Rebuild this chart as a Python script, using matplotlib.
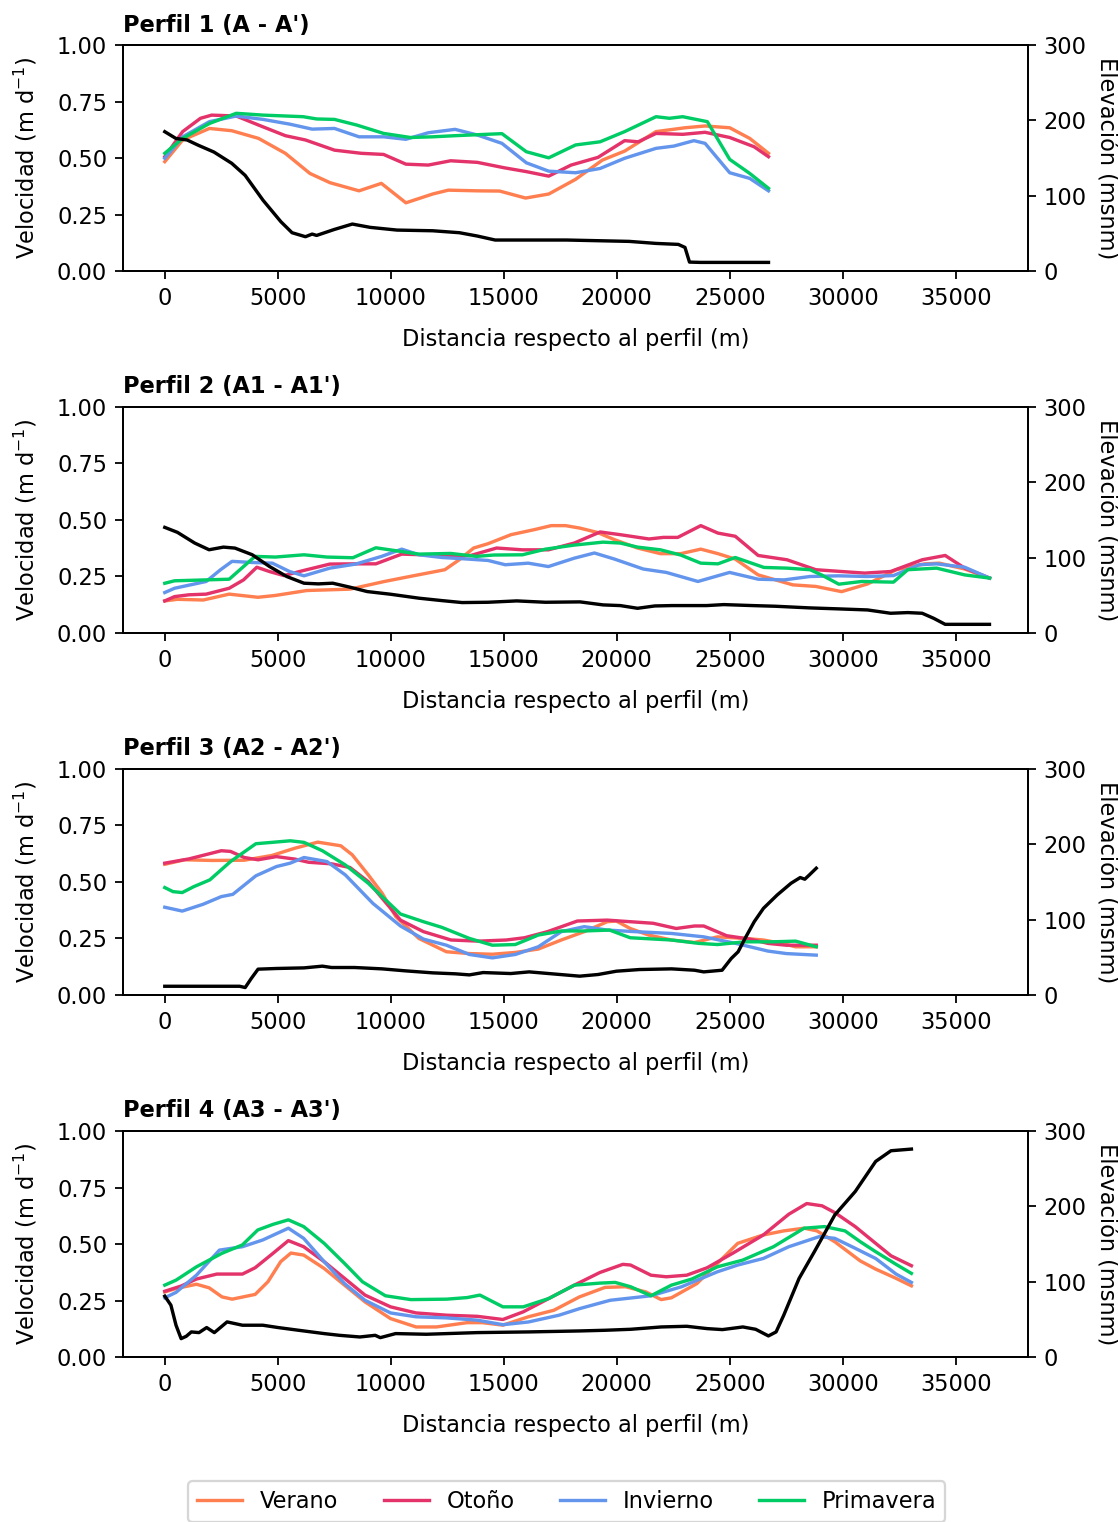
import matplotlib
matplotlib.use("Agg")
import matplotlib.pyplot as plt

# ---- Perfil 1 (A - A') ----
p1_ver_x = [0, 790, 1976, 2964, 4150, 5335, 6422, 7312, 8596, 9584, 10670, 11856, 12548, 13832, 14820, 15966, 16994, 18180, 19365, 20353, 21736, 23020, 23910, 25000, 25886, 26716]
p1_ver_y = [0.484, 0.58, 0.631, 0.621, 0.587, 0.521, 0.432, 0.391, 0.355, 0.388, 0.302, 0.341, 0.358, 0.355, 0.354, 0.323, 0.341, 0.406, 0.491, 0.531, 0.617, 0.634, 0.642, 0.634, 0.587, 0.521]
p1_oto_x = [0, 790, 1581, 2075, 3162, 4150, 5335, 6225, 7509, 8695, 9683, 10670, 11660, 12650, 13830, 15020, 16000, 16990, 17980, 19170, 20350, 20950, 21740, 22920, 23910, 25000, 26080, 26716]
p1_oto_y = [0.506, 0.617, 0.676, 0.690, 0.686, 0.646, 0.599, 0.580, 0.535, 0.521, 0.516, 0.473, 0.469, 0.488, 0.481, 0.457, 0.440, 0.420, 0.469, 0.503, 0.577, 0.572, 0.609, 0.605, 0.614, 0.591, 0.550, 0.506]
p1_inv_x = [0, 790, 1976, 3162, 4348, 5533, 6521, 7509, 8596, 9683, 10670, 11660, 12845, 13830, 14920, 16000, 16990, 18180, 19265, 20350, 21740, 22530, 23415, 23910, 25000, 25886, 26716]
p1_inv_y = [0.499, 0.594, 0.661, 0.686, 0.671, 0.650, 0.628, 0.631, 0.594, 0.594, 0.583, 0.612, 0.627, 0.602, 0.565, 0.479, 0.442, 0.435, 0.454, 0.499, 0.543, 0.553, 0.577, 0.565, 0.435, 0.410, 0.355]
p1_pri_x = [0, 790, 1976, 3162, 4348, 6126, 6718, 7509, 8497, 9683, 10868, 11856, 12845, 14920, 16000, 16990, 18180, 19265, 20350, 21740, 22330, 22920, 24010, 25000, 25886, 26716]
p1_pri_y = [0.521, 0.587, 0.653, 0.698, 0.690, 0.683, 0.673, 0.671, 0.646, 0.609, 0.591, 0.594, 0.599, 0.608, 0.528, 0.501, 0.558, 0.572, 0.617, 0.683, 0.676, 0.683, 0.661, 0.494, 0.432, 0.366]
p1_elev_x = [0, 494, 988, 1482, 2174, 2964, 3557, 4348, 5138, 5632, 6225, 6521, 6718, 7509, 8300, 9090, 10280, 11856, 13040, 13830, 14620, 15800, 17780, 20550, 21740, 22725, 23020, 23220, 23715, 26716]
p1_elev_y = [185, 176, 174, 167, 158, 143, 127, 94, 65.5, 50.9, 45.6, 49.1, 47.3, 55.3, 62.4, 58, 54.4, 53.5, 50.9, 46.5, 41.2, 41.2, 41.2, 39.4, 36.7, 35.4, 31.4, 11.9, 11.5, 11.5]

# ---- Perfil 2 (A1 - A1') ----
p2_ver_x = [0, 560, 1705, 2850, 4123, 4887, 6287, 8195, 9722, 10994, 12394, 13030, 13667, 14303, 15320, 16340, 17100, 17740, 18375, 19140, 19900, 20920, 21940, 22830, 23720, 24480, 25245, 26260, 27790, 28810, 29950, 31100, 32370, 33640, 34280, 35400, 36500]
p2_ver_y = [0.142, 0.149, 0.146, 0.172, 0.158, 0.166, 0.188, 0.194, 0.228, 0.253, 0.280, 0.324, 0.376, 0.395, 0.435, 0.457, 0.475, 0.475, 0.464, 0.445, 0.413, 0.376, 0.351, 0.351, 0.371, 0.351, 0.327, 0.257, 0.213, 0.206, 0.183, 0.217, 0.280, 0.306, 0.309, 0.283, 0.243]
p2_oto_x = [0, 433, 1069, 1832, 2850, 3486, 4072, 4632, 5268, 6159, 7304, 8450, 9340, 10485, 11757, 12775, 13540, 14684, 15830, 16976, 18121, 19266, 20156, 21428, 22065, 22701, 23720, 24480, 25245, 26260, 27535, 28810, 29950, 30970, 32118, 33517, 34535, 35400, 36500]
p2_oto_y = [0.142, 0.161, 0.169, 0.172, 0.198, 0.235, 0.291, 0.272, 0.254, 0.277, 0.305, 0.306, 0.306, 0.349, 0.345, 0.339, 0.343, 0.376, 0.368, 0.368, 0.398, 0.447, 0.435, 0.416, 0.423, 0.423, 0.475, 0.442, 0.428, 0.343, 0.324, 0.280, 0.272, 0.265, 0.272, 0.324, 0.343, 0.287, 0.243]
p2_inv_x = [0, 433, 1832, 2468, 2977, 3868, 4760, 5522, 6159, 7304, 8450, 9595, 10485, 11249, 12267, 13285, 14303, 15066, 16084, 16976, 18121, 19012, 19903, 21176, 22194, 23593, 24993, 26265, 27410, 28555, 29827, 31100, 32245, 33390, 34154, 35400, 36500]
p2_inv_y = [0.179, 0.198, 0.228, 0.280, 0.317, 0.312, 0.309, 0.272, 0.253, 0.287, 0.305, 0.339, 0.371, 0.346, 0.334, 0.328, 0.321, 0.302, 0.309, 0.294, 0.331, 0.354, 0.327, 0.283, 0.268, 0.228, 0.268, 0.238, 0.235, 0.250, 0.253, 0.250, 0.254, 0.302, 0.306, 0.291, 0.243]
p2_pri_x = [0, 433, 1832, 2850, 3995, 4887, 6159, 7177, 8322, 9340, 10230, 11249, 12649, 13794, 14557, 15830, 16848, 18121, 19393, 20156, 20920, 21937, 22830, 23720, 24480, 25245, 26515, 27535, 28555, 29063, 29827, 30845, 32245, 32880, 34154, 35400, 36500]
p2_pri_y = [0.220, 0.231, 0.235, 0.238, 0.339, 0.336, 0.346, 0.336, 0.333, 0.377, 0.364, 0.349, 0.352, 0.339, 0.345, 0.346, 0.371, 0.389, 0.402, 0.398, 0.380, 0.368, 0.345, 0.309, 0.306, 0.334, 0.290, 0.287, 0.280, 0.257, 0.216, 0.228, 0.225, 0.280, 0.287, 0.257, 0.243]
p2_elev_x = [0, 560, 1323, 1960, 2596, 3105, 3868, 4632, 5395, 6159, 6795, 7431, 8195, 8958, 9976, 11249, 12267, 13158, 14303, 15575, 16848, 18375, 19393, 20156, 20920, 21683, 22447, 23974, 24737, 26010, 27028, 28555, 29827, 31100, 32118, 32881, 33517, 34026, 34535, 36495]
p2_elev_y = [140.2, 133.6, 119.4, 110.5, 114, 112.7, 103.9, 88.3, 75, 66.1, 65.2, 66.1, 60.8, 55, 51.5, 46.2, 43, 40.4, 40.8, 42.6, 40.8, 41.3, 37.3, 36.4, 32.8, 35.9, 36.4, 36.4, 37.7, 36.4, 35.5, 33.3, 32, 30.6, 26.2, 27.1, 26.2, 19.5, 11.5, 11.5]

# ---- Perfil 3 (A2 - A2') ----
p3_ver_x = [0, 874, 2094, 3517, 4738, 5754, 6770, 7787, 8295, 9007, 9617, 10227, 11243, 12463, 13480, 14496, 15513, 16530, 17546, 18563, 19580, 19986, 20596, 21410, 22425, 23442, 24459, 25678, 26492, 27305, 27915, 28830]
p3_ver_y = [0.578, 0.598, 0.595, 0.596, 0.617, 0.649, 0.676, 0.660, 0.620, 0.531, 0.450, 0.346, 0.250, 0.191, 0.183, 0.180, 0.188, 0.203, 0.243, 0.280, 0.324, 0.327, 0.294, 0.265, 0.243, 0.232, 0.257, 0.250, 0.243, 0.228, 0.213, 0.213]
p3_oto_x = [0, 1077, 2500, 2907, 3517, 4128, 4940, 5754, 6364, 7380, 8193, 9007, 9617, 10430, 11447, 12667, 13887, 15107, 15920, 16936, 18258, 19580, 20596, 21613, 22630, 23442, 23849, 24865, 25881, 26695, 27508, 28830]
p3_oto_y = [0.583, 0.602, 0.638, 0.635, 0.608, 0.598, 0.612, 0.601, 0.587, 0.580, 0.564, 0.501, 0.428, 0.331, 0.280, 0.243, 0.238, 0.243, 0.253, 0.280, 0.327, 0.331, 0.324, 0.317, 0.294, 0.305, 0.305, 0.262, 0.247, 0.228, 0.220, 0.220]
p3_inv_x = [0, 773, 1692, 2500, 3010, 4030, 4940, 5550, 6160, 7177, 7990, 9210, 10430, 11447, 12463, 13480, 14496, 15513, 16530, 17546, 18563, 19580, 20800, 22425, 23850, 25270, 26695, 27508, 28830]
p3_inv_y = [0.388, 0.371, 0.401, 0.435, 0.445, 0.527, 0.568, 0.583, 0.608, 0.590, 0.531, 0.405, 0.305, 0.247, 0.220, 0.179, 0.164, 0.179, 0.213, 0.280, 0.302, 0.287, 0.280, 0.272, 0.257, 0.228, 0.194, 0.183, 0.176]
p3_pri_x = [0, 366, 773, 1281, 1993, 2907, 4030, 4740, 5554, 6160, 6974, 7990, 9007, 9617, 10430, 11447, 12260, 13480, 14496, 15513, 16530, 17546, 18563, 19682, 20596, 22425, 23645, 24459, 25678, 26898, 27915, 28830]
p3_pri_y = [0.475, 0.457, 0.453, 0.479, 0.509, 0.590, 0.669, 0.675, 0.682, 0.675, 0.638, 0.575, 0.494, 0.435, 0.358, 0.324, 0.299, 0.250, 0.220, 0.223, 0.265, 0.283, 0.283, 0.287, 0.253, 0.243, 0.228, 0.223, 0.235, 0.235, 0.238, 0.213]
p3_elev_x = [0, 3314, 3558, 3823, 4128, 4940, 6160, 6974, 7380, 8400, 9617, 10634, 11854, 12870, 13480, 14090, 15310, 16123, 17343, 18360, 19173, 19986, 21003, 22426, 23442, 23850, 24662, 25068, 25373, 25678, 26085, 26492, 27102, 27712, 28119, 28322, 28525, 28830]
p3_elev_y = [11.5, 11.5, 9.8, 21.7, 34.2, 35.1, 35.9, 38.2, 36.4, 36.4, 34.6, 32, 29.3, 28, 26.6, 29.7, 28.4, 30.6, 27.5, 24.9, 27.1, 31.5, 33.7, 34.6, 32.8, 30.6, 32.8, 48.4, 57.3, 75, 97.2, 114.9, 132.7, 148.2, 155.8, 153.6, 159.3, 168.2]

# ---- Perfil 4 (A3 - A3') ----
p4_ver_x = [0, 497, 1401, 1966, 2531, 2983, 4000, 4565, 5130, 5582, 6147, 7051, 7955, 8860, 9990, 11120, 12023, 13380, 14058, 14962, 16091, 17221, 18351, 19481, 20385, 21289, 21967, 22419, 23548, 24452, 25356, 26486, 27390, 28294, 28859, 29650, 30780, 31458, 32362, 33040]
p4_ver_y = [0.288, 0.303, 0.322, 0.306, 0.266, 0.256, 0.277, 0.333, 0.422, 0.460, 0.451, 0.392, 0.318, 0.244, 0.170, 0.133, 0.133, 0.152, 0.152, 0.141, 0.178, 0.207, 0.266, 0.308, 0.311, 0.288, 0.254, 0.262, 0.325, 0.414, 0.503, 0.540, 0.558, 0.570, 0.558, 0.510, 0.425, 0.389, 0.348, 0.315]
p4_oto_x = [0, 723, 1401, 2305, 3435, 4000, 4791, 5469, 6147, 7051, 7955, 8860, 9990, 11120, 12475, 13831, 14962, 15866, 16996, 18125, 19255, 20272, 20611, 21515, 22193, 23097, 24001, 25131, 26487, 27617, 28408, 29086, 29650, 30554, 31458, 32136, 33040]
p4_oto_y = [0.291, 0.314, 0.345, 0.367, 0.367, 0.395, 0.459, 0.515, 0.488, 0.422, 0.348, 0.274, 0.222, 0.195, 0.185, 0.180, 0.166, 0.200, 0.259, 0.318, 0.374, 0.410, 0.407, 0.362, 0.355, 0.362, 0.395, 0.459, 0.540, 0.632, 0.679, 0.669, 0.639, 0.577, 0.503, 0.448, 0.404]
p4_inv_x = [0, 497, 1401, 2418, 3435, 4339, 5469, 6147, 7051, 7955, 8860, 9990, 11120, 12475, 13831, 14962, 16091, 17447, 18351, 19707, 21515, 22871, 24452, 25356, 26486, 27616, 28972, 29650, 30554, 31458, 32362, 33040]
p4_inv_y = [0.262, 0.286, 0.362, 0.473, 0.488, 0.518, 0.570, 0.525, 0.422, 0.325, 0.251, 0.195, 0.178, 0.173, 0.163, 0.143, 0.155, 0.185, 0.214, 0.251, 0.271, 0.311, 0.377, 0.407, 0.436, 0.488, 0.533, 0.525, 0.481, 0.436, 0.367, 0.330]
p4_pri_x = [0, 497, 1401, 2531, 3435, 4113, 4791, 5469, 6147, 7051, 7955, 8746, 9763, 10893, 12475, 13380, 13945, 14962, 15866, 16996, 18125, 19255, 19933, 20611, 21515, 22419, 23323, 24452, 25582, 26938, 28294, 29198, 30102, 30780, 31458, 32362, 33040]
p4_pri_y = [0.318, 0.340, 0.399, 0.459, 0.496, 0.562, 0.587, 0.607, 0.577, 0.503, 0.414, 0.333, 0.271, 0.254, 0.256, 0.263, 0.274, 0.222, 0.222, 0.259, 0.318, 0.327, 0.330, 0.311, 0.271, 0.318, 0.345, 0.399, 0.429, 0.488, 0.570, 0.577, 0.558, 0.510, 0.466, 0.410, 0.370]
p4_elev_x = [0, 271, 497, 723, 949, 1175, 1514, 1853, 2192, 2757, 3435, 4339, 5017, 5921, 7051, 7729, 8633, 9311, 9537, 10215, 11571, 13831, 16091, 18351, 19481, 20611, 21967, 23097, 24001, 24679, 25583, 26148, 26713, 27052, 27391, 28069, 28747, 29651, 30555, 31459, 32137, 33041]
p4_elev_y = [80.8, 68.8, 42.2, 24.4, 27.5, 33.3, 32.4, 39.1, 32.4, 46.6, 42.2, 42.2, 39.1, 35.5, 31.1, 28.8, 26.6, 28.8, 25.7, 31.1, 30.2, 32.4, 33.3, 34.6, 35.5, 36.8, 39.9, 40.8, 37.7, 36.4, 39.9, 36.8, 28, 33.3, 55.5, 104.3, 139.8, 188.6, 219.7, 259.6, 273.8, 276]

titles = ["Perfil 1 (A - A')", "Perfil 2 (A1 - A1')", "Perfil 3 (A2 - A2')", "Perfil 4 (A3 - A3')"]
seasons = ["Verano", "Otoño", "Invierno", "Primavera"]
colors = ["#FF7F50", "#E3336A", "#6495ED", "#00CC66"]

panels = [
    [(p1_ver_x, p1_ver_y), (p1_oto_x, p1_oto_y), (p1_inv_x, p1_inv_y), (p1_pri_x, p1_pri_y), (p1_elev_x, p1_elev_y)],
    [(p2_ver_x, p2_ver_y), (p2_oto_x, p2_oto_y), (p2_inv_x, p2_inv_y), (p2_pri_x, p2_pri_y), (p2_elev_x, p2_elev_y)],
    [(p3_ver_x, p3_ver_y), (p3_oto_x, p3_oto_y), (p3_inv_x, p3_inv_y), (p3_pri_x, p3_pri_y), (p3_elev_x, p3_elev_y)],
    [(p4_ver_x, p4_ver_y), (p4_oto_x, p4_oto_y), (p4_inv_x, p4_inv_y), (p4_pri_x, p4_pri_y), (p4_elev_x, p4_elev_y)],
]

DPI = 162
fig = plt.figure(figsize=(1118 / DPI, 1522 / DPI), dpi=DPI)
bottoms = [0.8219, 0.5841, 0.3463, 0.1084]

handles = []
for i, series in enumerate(panels):
    ax = fig.add_axes([0.110, bottoms[i], 0.8095, 0.1485])
    for j in range(4):
        xs, ys = series[j]
        ln, = ax.plot(xs, ys, color=colors[j], lw=1.5, label=seasons[j])
        if i == 0:
            handles.append(ln)
    ax.set_xlim(-1850, 38200)
    ax.set_ylim(0, 1)
    ax.set_xticks(range(0, 35001, 5000))
    ax.set_yticks([0, 0.25, 0.5, 0.75, 1.0])
    ax.set_xlabel("Distancia respecto al perfil (m)", labelpad=8)
    ax.set_ylabel("Velocidad (m d$^{-1}$)", labelpad=8)
    ax.set_title(titles[i], loc="left", fontweight="bold", fontsize=10)

    ax2 = ax.twinx()
    ex, ey = series[4]
    ax2.plot(ex, ey, color="black", lw=1.5)
    ax2.set_ylim(0, 300)
    ax2.set_yticks([0, 100, 200, 300])
    ax2.set_ylabel("Elevación (msnm)", rotation=270, va="bottom")

fig.legend(handles, seasons, loc="lower center", ncol=4, bbox_to_anchor=(0.507, 0.0),
           borderaxespad=0.0)

fig.savefig("out.png", dpi=DPI)
